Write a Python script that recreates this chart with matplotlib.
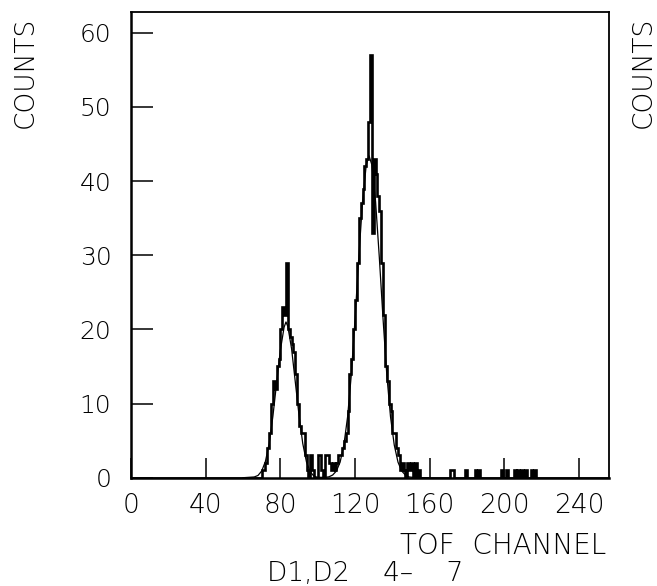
import numpy as np
import matplotlib
matplotlib.use("Agg")
import matplotlib.pyplot as plt

plt.rcParams["font.family"] = ["DejaVu Sans"]
plt.rcParams["font.weight"] = "light"

# histogram counts, one per TOF channel, contiguous block starting at channel 66
block_start = 66
block_counts = [
    0, 0, 0, 0, 1, 1, 2, 4, 6, 10,          # 66-75
    13, 12, 15, 16, 20, 23, 22, 29, 20, 19,  # 76-85
    18, 17, 14, 10, 7, 6, 6, 3, 1, 0,        # 86-95
    3, 1, 0, 0, 3, 3, 1, 0, 3, 3,            # 96-105
    2, 1, 2, 1, 2, 3, 3, 4, 5, 6,            # 106-115
    9, 14, 16, 20, 24, 29, 35, 37, 39, 42,   # 116-125
    43, 48, 57, 33, 43, 41, 38, 36, 29, 22,  # 126-135
    15, 13, 10, 9, 6, 6, 4, 3, 1, 2,         # 136-145
    1, 0, 2, 1, 2, 0, 2, 0, 1, 0,            # 146-155
]
# sparse single counts further out
tail_channels = [171, 172, 179, 184, 186, 198, 201, 205, 207, 209, 211, 214, 216]
tail_counts = [1, 1, 1, 1, 1, 1, 1, 1, 1, 1, 1, 1, 1]

# fitted curve
fit_ch = [60, 66, 68, 70, 72, 74, 76, 78, 80, 82, 83, 84, 86, 88, 90, 92, 94,
          96, 98, 100, 104, 106, 108, 110, 112, 114, 116, 118, 120, 122, 124,
          126, 127.5, 129, 131, 133, 135, 137, 139, 141, 143, 145, 147, 149,
          152, 160]
fit_counts = [0, 0.1, 0.3, 0.9, 2.2, 4.6, 8.3, 12.8, 17.2, 20.3, 21.0, 20.4,
              17.4, 12.9, 8.4, 4.6, 2.1, 0.8, 0.2, 0.05, 0.05, 0.12, 0.36, 0.9,
              2.1, 4.4, 8.2, 13.9, 21.4, 29.7, 37.2, 42.2, 43.4, 42.2, 37.2,
              29.7, 21.4, 13.9, 8.2, 4.4, 2.1, 0.9, 0.35, 0.1, 0.02, 0]

n_channels = 256
counts = np.zeros(n_channels)
counts[block_start:block_start + len(block_counts)] = block_counts
counts[tail_channels] = tail_counts
edges = np.arange(n_channels + 1)

fig = plt.figure(figsize=(6.57, 5.86), dpi=100)
ax = fig.add_axes([0.1994, 0.1848, 0.7275, 0.7947])

ax.stairs(counts, edges, color="black", linewidth=1.9)
ax.plot(fit_ch, fit_counts, color="black", linewidth=0.9)

ax.set_xlim(0, 256)
ax.set_ylim(0, 62.8)
ax.set_xticks([0, 40, 80, 120, 160, 200, 240])
ax.set_yticks([0, 10, 20, 30, 40, 50, 60])

for s in ax.spines.values():
    s.set_linewidth(1.3)
ax.spines["left"].set_linewidth(1.8)
ax.spines["bottom"].set_linewidth(1.8)

ax.tick_params(axis="y", direction="in", length=16, width=1.1, pad=14,
               labelsize=18)
ax.tick_params(axis="x", direction="in", length=14.5, width=1.1, pad=11,
               labelsize=19)

fig.text(25 / 657, 1 - 72 / 586, "COUNTS", rotation=90, ha="center",
         va="center", fontsize=19)
fig.text(643 / 657, 1 - 72 / 586, "COUNTS", rotation=90, ha="center",
         va="center", fontsize=19)
fig.text(606 / 657, 1 - 546 / 586, "TOF  CHANNEL", ha="right", va="center",
         fontsize=20)
fig.text(267 / 657, 1 - 573 / 586, "D1,D2    4\u2013    7", ha="left",
         va="center", fontsize=19)

fig.savefig("out.png", dpi=100)
